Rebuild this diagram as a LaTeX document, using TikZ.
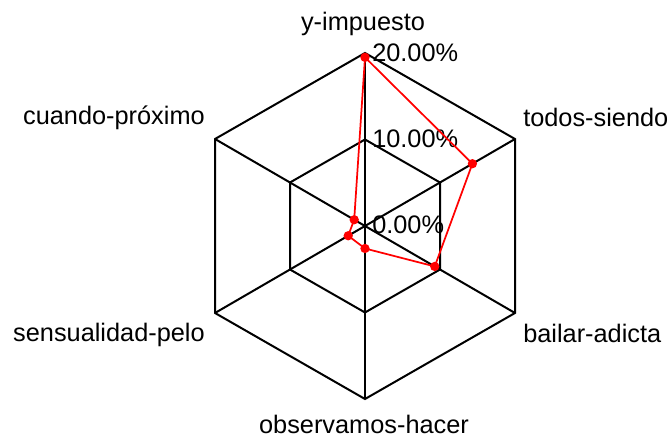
\documentclass[tikz,border=0pt]{standalone}
\usepackage{fontspec}
\setmainfont{Liberation Sans}
\usetikzlibrary{calc}
\begin{document}
\begin{tikzpicture}[x=0.75pt,y=-0.75pt,
  grid/.style={draw=black,line width=1.5pt,line join=miter},
  series/.style={draw=red,line width=1.3pt},
  dot/.style={circle,fill=red,inner sep=0pt,minimum size=7pt},
  axlabel/.style={font=\fontsize{19pt}{22pt}\selectfont,inner sep=0pt},
  ticklabel/.style={font=\fontsize{19pt}{22pt}\selectfont,inner sep=0pt,anchor=west}]
\useasboundingbox (0,0) rectangle (672,438);
\coordinate (C) at (365,226);
\coordinate (A1) at (365,53);
\coordinate (A2) at (515,139);
\coordinate (A3) at (515,313);
\coordinate (A4) at (365,399);
\coordinate (A5) at (215,313);
\coordinate (A6) at (215,139);
% grid
\foreach \f in {0.5,1}{
  \draw[grid] ($(C)!\f!(A1)$) -- ($(C)!\f!(A2)$) -- ($(C)!\f!(A3)$) -- ($(C)!\f!(A4)$) -- ($(C)!\f!(A5)$) -- ($(C)!\f!(A6)$) -- cycle;
}
\foreach \i in {1,...,6}{ \draw[grid] (C) -- (A\i); }
% tick labels
\node[ticklabel] (t0) at (372,225) {0.00\%};
\node[ticklabel] (t1) at (372,139) {10.00\%};
\node[ticklabel] (t2) at (372,53) {20.00\%};
% axis labels
\node[axlabel] (l1) at (363,24) {y-impuesto};
\node[axlabel,anchor=west] (l2) at (523,117) {todos-siendo};
\node[axlabel,anchor=west] (l3) at (523,333) {bailar-adicta};
\node[axlabel,anchor=base] (l4) at (364,434) {observamos-hacer};
\node[axlabel,anchor=east] (l5) at (205,335) {sensualidad-pelo};
\node[axlabel,anchor=east] (l6) at (205,118) {cuando-próximo};
% data
\coordinate (d1) at ($(C)!0.975!(A1)$);
\coordinate (d2) at ($(C)!0.716!(A2)$);
\coordinate (d3) at ($(C)!0.465!(A3)$);
\coordinate (d4) at ($(C)!0.13!(A4)$);
\coordinate (d5) at ($(C)!0.112!(A5)$);
\coordinate (d6) at ($(C)!0.072!(A6)$);
\draw[series] (d1) -- (d2) -- (d3) -- (d4) -- (d5) -- (d6) -- cycle;
\foreach \i in {1,...,6}{ \node[dot] (p\i) at (d\i) {}; }
\end{tikzpicture}
\end{document}
